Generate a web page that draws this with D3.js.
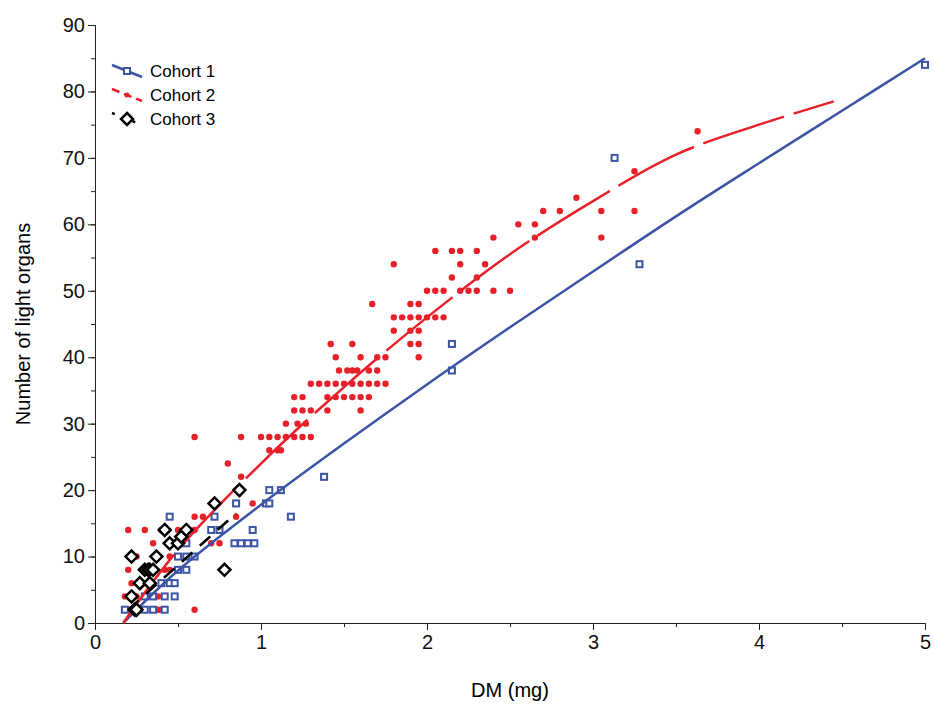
<!DOCTYPE html><html><head><meta charset="utf-8"><script src="https://cdn.jsdelivr.net/npm/d3@7"></script>
<style>body{margin:0;background:#fff}text{font-family:"Liberation Sans",Arial,sans-serif}</style></head><body>
<svg id="c" width="933" height="715"></svg>
<script>
const xTicks=[0,1,2,3,4,5], yTicks=[0,10,20,30,40,50,60,70,80,90];
const red=[[0.2,2],[0.28,2],[0.3,2],[0.35,2],[0.38,2],[0.4,2],[0.6,2],[0.18,4],[0.25,4],[0.3,4],[0.33,4],[0.38,4],[0.42,4],
[0.22,6],[0.3,6],[0.4,6],[0.45,6],[0.2,8],[0.3,8],[0.35,8],[0.42,8],[0.45,8],[0.25,10],[0.38,10],[0.45,10],[0.5,10],[0.55,10],[0.6,10],
[0.35,12],[0.45,12],[0.5,12],[0.55,12],[0.7,12],[0.75,12],[0.2,14],[0.3,14],[0.4,14],[0.5,14],[0.55,14],[0.6,14],
[0.45,16],[0.6,16],[0.65,16],[0.85,16],[0.95,18],[1.05,18],[1.05,20],[0.88,22],[0.8,24],[1.05,26],[1.1,26],[1.12,26],
[0.6,28],[0.88,28],[1.0,28],[1.05,28],[1.1,28],[1.15,28],[1.2,28],[1.25,28],[1.3,28],[1.15,30],[1.22,30],[1.27,30],
[1.2,32],[1.25,32],[1.3,32],[1.4,32],[1.6,32],[1.2,34],[1.25,34],[1.4,34],[1.45,34],[1.5,34],[1.55,34],[1.6,34],[1.65,34],
[1.3,36],[1.35,36],[1.4,36],[1.45,36],[1.5,36],[1.55,36],[1.6,36],[1.65,36],[1.7,36],[1.75,36],
[1.47,38],[1.52,38],[1.55,38],[1.58,38],[1.65,38],[1.7,38],[1.45,40],[1.6,40],[1.7,40],[1.75,40],[1.95,40],
[1.42,42],[1.55,42],[1.9,42],[1.95,42],[1.8,44],[1.9,44],[1.95,44],[1.8,46],[1.85,46],[1.9,46],[1.95,46],[2.0,46],[2.05,46],[2.1,46],
[1.67,48],[1.9,48],[1.95,48],[2.0,50],[2.05,50],[2.1,50],[2.2,50],[2.25,50],[2.3,50],[2.4,50],[2.5,50],[2.15,52],[2.3,52],
[1.8,54],[2.2,54],[2.35,54],[2.05,56],[2.15,56],[2.2,56],[2.3,56],[2.4,58],[2.65,58],[3.05,58],[2.55,60],[2.65,60],
[2.7,62],[2.8,62],[3.05,62],[3.25,62],[2.9,64],[3.25,68],[3.63,74]];
const blue=[[0.18,2],[0.25,2],[0.3,2],[0.35,2],[0.42,2],[0.3,4],[0.35,4],[0.42,4],[0.48,4],[0.4,6],[0.45,6],[0.48,6],[0.5,8],[0.55,8],
[0.5,10],[0.55,10],[0.6,10],[0.45,12],[0.55,12],[0.7,14],[0.75,14],[0.95,14],[0.72,16],[0.45,16],[0.85,18],[0.84,12],[0.88,12],[0.92,12],[0.96,12],
[1.03,18],[1.05,18],[1.05,20],[1.12,20],[1.18,16],[1.38,22],[2.15,42],[2.15,38],[3.13,70],[3.28,54],[5,84]];
const black=[[0.22,10],[0.22,4],[0.24,2],[0.25,2],[0.27,6],[0.3,8],[0.32,8],[0.33,8],[0.35,8],[0.33,6],[0.37,10],[0.42,14],[0.45,12],[0.5,12],[0.52,13],[0.55,14],[0.72,18],[0.78,8],[0.87,20]];
const redFit=[[0.17,0],[0.5,11],[1,24],[1.5,35.5],[2,46],[2.5,55.5],[3,63.5],[3.5,70.5],[4,75],[4.45,78.5]];
const blueFit=[[0.17,0],[0.5,7.9],[1,17.8],[1.5,27],[2,35.9],[2.5,44.5],[3,52.9],[3.5,61.2],[4,69.2],[4.5,77.1],[5,85]];
const blackFit=[[0.2,2],[0.85,16.5]];
const svg=d3.select("#c"),L=95,R=925,T=25,B=623;
const x=d3.scaleLinear().domain([0,5]).range([L,R]),y=d3.scaleLinear().domain([0,90]).range([B,T]);
const ax=svg.append("g").attr("transform",`translate(0,${B})`).call(d3.axisBottom(x).tickValues(xTicks).tickSize(7).tickFormat(d3.format("d")));
svg.append("g").attr("transform",`translate(0,${B})`).call(d3.axisBottom(x).tickValues(d3.range(0,5.01,0.5)).tickSize(4).tickFormat(""));
const ay=svg.append("g").attr("transform",`translate(${L},0)`).call(d3.axisLeft(y).tickValues(yTicks).tickSize(7));
svg.append("g").attr("transform",`translate(${L},0)`).call(d3.axisLeft(y).tickValues(d3.range(0,91,5)).tickSize(4).tickFormat(""));
svg.selectAll(".tick text").attr("font-size",20).attr("fill","#111");
svg.selectAll(".domain,.tick line").attr("stroke","#222");
ay.selectAll(".tick text").attr("x",-10);ax.selectAll(".tick text").attr("y",12);
svg.append("text").attr("x",510).attr("y",697).attr("text-anchor","middle").attr("font-size",20).text("DM (mg)");
svg.append("text").attr("transform","translate(30,324) rotate(-90)").attr("text-anchor","middle").attr("font-size",20).text("Number of light organs");
const line=d3.line().x(d=>x(d[0])).y(d=>y(d[1])).curve(d3.curveCatmullRom);
svg.selectAll(".r").data(red).join("circle").attr("cx",d=>x(d[0])).attr("cy",d=>y(d[1])).attr("r",3.2).attr("fill","#e8202a");
svg.selectAll(".b").data(blue).join("rect").attr("x",d=>x(d[0])-3).attr("y",d=>y(d[1])-3).attr("width",6).attr("height",6).attr("fill","#fff").attr("stroke","#3b55a4").attr("stroke-width",2);
svg.append("path").attr("d",line(blueFit)).attr("fill","none").attr("stroke","#3b55a4").attr("stroke-width",2.5);
svg.append("path").attr("d",line(redFit)).attr("fill","none").attr("stroke","#e8202a").attr("stroke-width",2.5).attr("stroke-dasharray","85,10");
svg.append("path").attr("d",line(blackFit)).attr("fill","none").attr("stroke","#000").attr("stroke-width",2.5).attr("stroke-dasharray","14,10");
const dia="M0,-6L6,0L0,6L-6,0Z";
svg.selectAll(".k").data(black).join("path").attr("d",dia).attr("transform",d=>`translate(${x(d[0])},${y(d[1])})`).attr("fill","#fff").attr("stroke","#000").attr("stroke-width",2.5);
const lg=[["Cohort 1","#3b55a4","none"],["Cohort 2","#e8202a","8,5"],["Cohort 3","#000","3,8"]];
lg.forEach((d,i)=>{const yy=71+i*24;
svg.append("line").attr("x1",112).attr("x2",142).attr("y1",yy-6).attr("y2",yy+6).attr("stroke",d[1]).attr("stroke-width",2.5).attr("stroke-dasharray",d[2]);
if(i==0)svg.append("rect").attr("x",124).attr("y",yy-3).attr("width",6).attr("height",6).attr("fill","#fff").attr("stroke",d[1]).attr("stroke-width",2);
if(i==1)svg.append("circle").attr("cx",127).attr("cy",yy).attr("r",2.5).attr("fill",d[1]);
if(i==2)svg.append("path").attr("d",dia).attr("transform",`translate(127,${yy})`).attr("fill","#fff").attr("stroke","#000").attr("stroke-width",2.5);
svg.append("text").attr("x",150).attr("y",yy+6).attr("font-size",17).text(d[0]);});
</script></body></html>
